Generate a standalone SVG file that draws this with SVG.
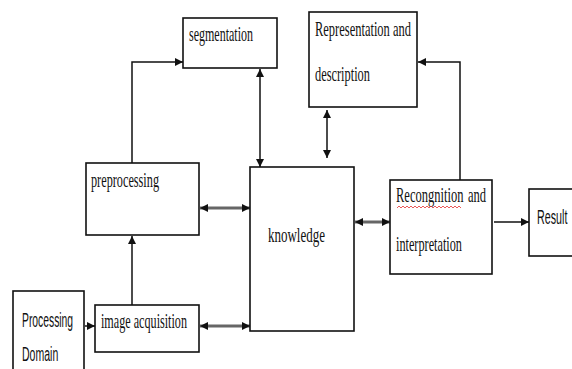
<svg xmlns="http://www.w3.org/2000/svg" width="572" height="369" viewBox="0 0 572 369">
<style>
.box{fill:#fff;stroke:#111;stroke-width:1.6}
.t{font-family:"Liberation Serif","Times New Roman",serif;font-size:22px;fill:#111}
.s{font-family:"Liberation Sans",Arial,sans-serif;font-size:19.5px;fill:#111}
.c{fill:none;stroke:#111;stroke-width:1.5}
.k{fill:none;stroke:#666;stroke-width:3}
</style>
<defs>
<marker id="ah" viewBox="0 0 10 10" refX="10" refY="5" markerWidth="8" markerHeight="9" markerUnits="userSpaceOnUse" orient="auto-start-reverse">
<path d="M0,0 L10,5 L0,10 z" fill="#111"/>
</marker>
</defs>
<rect width="572" height="369" fill="#fff"/>
<g id="connectors">
<path class="c" d="M132,163 V62 H183" marker-end="url(#ah)"/>
<path class="c" d="M260,69 V167" marker-start="url(#ah)" marker-end="url(#ah)"/>
<path class="c" d="M327,110 V158" marker-start="url(#ah)" marker-end="url(#ah)"/>
<path class="c" d="M418,62 H460 V188" marker-start="url(#ah)" marker-end="url(#ah)"/>
<path class="k" d="M200,208 H250" marker-start="url(#ah)" marker-end="url(#ah)"/>
<path class="k" d="M200,326 H250" marker-start="url(#ah)" marker-end="url(#ah)"/>
<path class="k" d="M355,222 H390" marker-start="url(#ah)" marker-end="url(#ah)"/>
<path class="c" d="M494,222 H529" marker-end="url(#ah)"/>
<path class="c" d="M132,305 V236" marker-end="url(#ah)"/>
<path class="c" d="M85,326 H95" marker-end="url(#ah)"/>
</g>
<g id="segmentation">
<rect class="box" x="183" y="18" width="94" height="50"/>
<text class="t" x="189" y="41" textLength="64" lengthAdjust="spacingAndGlyphs">segmentation</text>
</g>
<g id="representation">
<rect class="box" x="309" y="12" width="108" height="95"/>
<text class="t" x="315" y="36" textLength="96" lengthAdjust="spacingAndGlyphs">Representation and</text>
<text class="t" x="315" y="81" textLength="55" lengthAdjust="spacingAndGlyphs">description</text>
</g>
<g id="preprocessing">
<rect class="box" x="86" y="163" width="113" height="72"/>
<text class="t" x="91" y="187" textLength="68" lengthAdjust="spacingAndGlyphs">preprocessing</text>
</g>
<g id="knowledge">
<rect class="box" x="250" y="167" width="104" height="164"/>
<text class="t" x="268" y="242" textLength="57" lengthAdjust="spacingAndGlyphs">knowledge</text>
</g>
<g id="recognition">
<rect class="box" x="390" y="180" width="102" height="94"/>
<text class="t" transform="translate(396,202) scale(0.57,1)" x="0" y="0">Recongnition</text>
<text class="t" transform="translate(468,202) scale(0.57,1)" x="0" y="0">and</text>
<path d="M397,208 l2,-2 l2,2 l2,-2 l2,2 l2,-2 l2,2 l2,-2 l2,2 l2,-2 l2,2 l2,-2 l2,2 l2,-2 l2,2 l2,-2 l2,2 l2,-2 l2,2 l2,-2 l2,2 l2,-2 l2,2 l2,-2 l2,2 l2,-2 l2,2 l2,-2 l2,2 l2,-2 l2,2 l2,-2 l2,2" fill="none" stroke="#e53030" stroke-width="0.8"/>
<text class="t" x="396" y="251" textLength="66" lengthAdjust="spacingAndGlyphs">interpretation</text>
</g>
<g id="result">
<rect class="box" x="529" y="189" width="50" height="67"/>
<text class="s" transform="translate(537,224) scale(0.55,1)" x="0" y="0">Result</text>
</g>
<g id="image-acquisition">
<rect class="box" x="95" y="305" width="104" height="47"/>
<text class="t" x="101" y="328" textLength="86" lengthAdjust="spacingAndGlyphs">image acquisition</text>
</g>
<g id="processing-domain">
<rect class="box" x="13" y="291" width="71" height="90"/>
<text class="s" transform="translate(22,327) scale(0.53,1)" x="0" y="0">Processing</text>
<text class="s" transform="translate(22,361) scale(0.54,1)" x="0" y="0">Domain</text>
</g>
</svg>
